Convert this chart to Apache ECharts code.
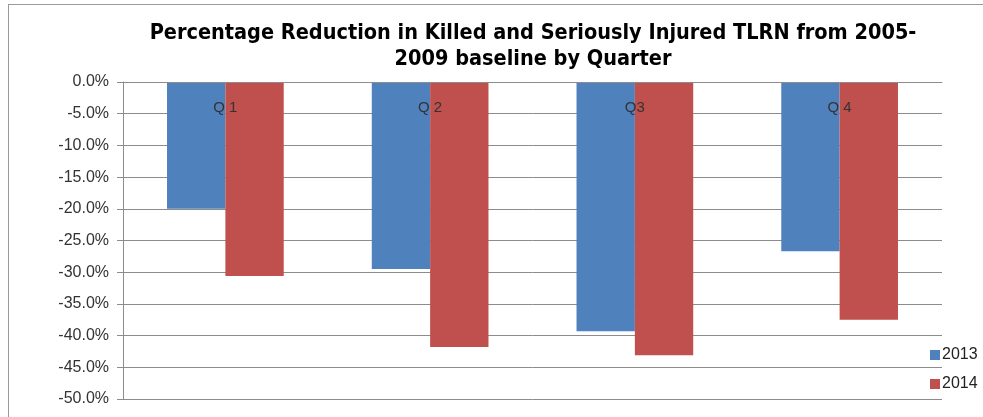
<!DOCTYPE html>
<html>
<head>
<meta charset="utf-8">
<script src="https://cdn.jsdelivr.net/npm/echarts@6/dist/echarts.min.js"></script>
<style>
  html, body { margin: 0; padding: 0; background: #fff; }
  #frame { position: absolute; left: 8px; top: 4px; width: 990px; height: 430px; border: 1px solid #9a9a9a; }
  #chart { position: absolute; left: 0; top: 0; width: 983px; height: 417px; }
</style>
</head>
<body>
<div id="frame"></div>
<div id="chart"></div>
<script>
// quarters and values (percent change vs 2005-2009 baseline)
const quarters = ['Q 1', 'Q 2', 'Q3', 'Q 4'];
const values2013 = [-20.0, -29.5, -39.3, -26.7];
const values2014 = [-30.6, -41.8, -43.1, -37.5];
const seriesNames = ['2013', '2014'];

const chart = echarts.init(document.getElementById('chart'));

const option = {
  animation: false,
  title: {
    text: 'Percentage Reduction in Killed and Seriously Injured TLRN from 2005-\n2009 baseline by Quarter',
    left: 528,
    top: 15,
    textAlign: 'center',
    textStyle: {
      fontFamily: 'DejaVu Sans Condensed, Liberation Sans, Arial',
      fontWeight: 'bold',
      fontSize: 21.5,
      lineHeight: 26,
      color: '#000'
    }
  },
  legend: {
    data: seriesNames,
    orient: 'vertical',
    left: 925,
    top: 342,
    itemWidth: 10,
    itemHeight: 10,
    itemGap: 13,
    icon: 'rect',
    textStyle: { fontFamily: 'Liberation Sans, Arial', fontSize: 16, color: '#222', padding: [0, 0, 0, -3] }
  },
  grid: { left: 123, right: 41, top: 82, bottom: 18, containLabel: false, outerBoundsMode: 'none' },
  xAxis: {
    type: 'category',
    data: quarters,
    position: 'top',
    z: 10,
    axisLine: { onZero: false, lineStyle: { color: '#8c8c8c', width: 1 } },
    axisTick: { inside: false, length: 6, lineStyle: { color: '#8c8c8c' } },
    axisLabel: {
      inside: true,
      margin: 18,
      fontFamily: 'Liberation Sans, Arial',
      fontSize: 15,
      color: '#333'
    },
    splitLine: { show: false }
  },
  yAxis: {
    type: 'value',
    min: -50,
    max: 0,
    interval: 5,
    axisLine: { show: true, lineStyle: { color: '#8c8c8c' } },
    axisTick: { show: true, length: 6, lineStyle: { color: '#8c8c8c' } },
    axisLabel: {
      margin: 14,
      fontFamily: 'Liberation Sans, Arial',
      fontSize: 16,
      color: '#333',
      formatter: v => v.toFixed(1) + '%'
    },
    splitLine: { lineStyle: { color: '#8c8c8c', width: 1 } }
  },
  series: [
    {
      name: seriesNames[0],
      type: 'bar',
      data: values2013,
      barGap: '0%',
      barCategoryGap: '43%',
      itemStyle: { color: '#4f81bd' }
    },
    {
      name: seriesNames[1],
      type: 'bar',
      data: values2014,
      barGap: '0%',
      barCategoryGap: '43%',
      itemStyle: { color: '#c0504d' }
    }
  ]
};

chart.setOption(option);
</script>
</body>
</html>
